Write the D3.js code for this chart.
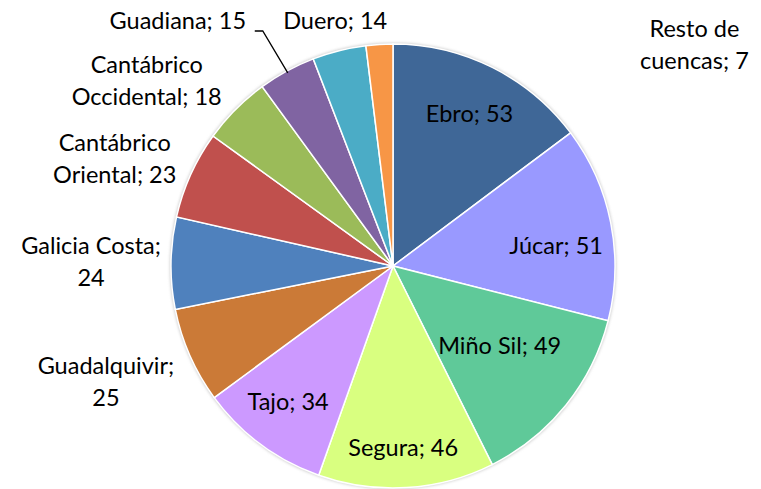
<!DOCTYPE html>
<html>
<head>
<meta charset="utf-8">
<script src="https://cdn.jsdelivr.net/npm/d3@7"></script>
<style>
  body { margin: 0; background: #fff; }
  text { font-family: Lato, "Open Sans", sans-serif; fill: #000; }
</style>
</head>
<body>
<div id="chart"></div>
<script>
// cuencas and values, clockwise from the top
var cuencas = ["Ebro", "Júcar", "Miño Sil", "Segura", "Tajo", "Guadalquivir",
  "Galicia Costa", "Cantábrico Oriental", "Cantábrico Occidental", "Guadiana", "Duero", "Resto de cuencas"];
var valores = [53, 51, 49, 46, 34, 25, 24, 23, 18, 15, 14, 7];
var colores = ["#3F6797", "#9999FF", "#5FC999", "#D9FF80", "#CC99FF", "#CB7A37",
  "#4F81BD", "#C0504D", "#9BBB59", "#8064A2", "#4BACC6", "#F79646"];
// how each label text is broken into lines
var etiquetas = [["Ebro; 53"], ["Júcar; 51"], ["Miño Sil; 49"], ["Segura; 46"], ["Tajo; 34"],
  ["Guadalquivir;", "25"], ["Galicia Costa;", "24"], ["Cantábrico", "Oriental; 23"],
  ["Cantábrico", "Occidental; 18"], ["Guadiana; 15"], ["Duero; 14"], ["Resto de", "cuencas; 7"]];

var width = 761, height = 489;
var cx = 393, cy = 266, r = 222;

// label placement: radius factor along the slice mid angle + nudge
var labelPlace = [[0.77, 0, 0], [0.74, 2, 11], [0.6, 3, -5], [0.82, -1, -1], [0.77, -3, -2],
  [1, -84, 25], [1, -80, -2], [1, -76, -17], [1, -89, -29], [1, -109, -51], [1, -4, -31], [1, 315, 0]];

var svg = d3.select("#chart").append("svg")
  .attr("width", width)
  .attr("height", height);

var defs = svg.append("defs");
var f = defs.append("filter").attr("id", "sombra")
  .attr("x", "-10%").attr("y", "-10%").attr("width", "120%").attr("height", "120%");
f.append("feGaussianBlur").attr("stdDeviation", 1.5);

var g = svg.append("g").attr("transform", "translate(" + cx + "," + cy + ")");

g.append("circle")
  .attr("r", r + 1)
  .attr("fill", "#c8c8c8")
  .attr("filter", "url(#sombra)");

var pie = d3.pie().sort(null).value(d => d);
var arcs = pie(valores);
var arc = d3.arc().innerRadius(0).outerRadius(r);

g.selectAll("path.slice")
  .data(arcs)
  .enter().append("path")
  .attr("class", "slice")
  .attr("d", arc)
  .attr("fill", (d, i) => colores[i])
  .attr("stroke", "#fff")
  .attr("stroke-width", 1.5);

function polar(a, rho) {
  return [rho * Math.sin(a), -rho * Math.cos(a)];
}

var lineH = 32;
arcs.forEach(function(d, i) {
  var mid = (d.startAngle + d.endAngle) / 2;
  var p = polar(mid, labelPlace[i][0] * r);
  var x = p[0] + labelPlace[i][1], y = p[1] + labelPlace[i][2];
  var lines = etiquetas[i];
  var t = g.append("text")
    .attr("text-anchor", "middle")
    .attr("font-size", 23.5)
    .attr("dominant-baseline", "central");
  lines.forEach(function(s, k) {
    t.append("tspan")
      .attr("x", x)
      .attr("y", y + (k - (lines.length - 1) / 2) * lineH)
      .text(s);
  });
});

// leader line for Guadiana
var gi = cuencas.indexOf("Guadiana");
var ga = (arcs[gi].startAngle + arcs[gi].endAngle) / 2;
var e = polar(ga, r - 2);
g.append("polyline")
  .attr("points", [e, [e[0] - 25, -235], [e[0] - 33, -235]].map(p => p.join(",")).join(" "))
  .attr("fill", "none")
  .attr("stroke", "#000")
  .attr("stroke-width", 1.3);
</script>
</body>
</html>
